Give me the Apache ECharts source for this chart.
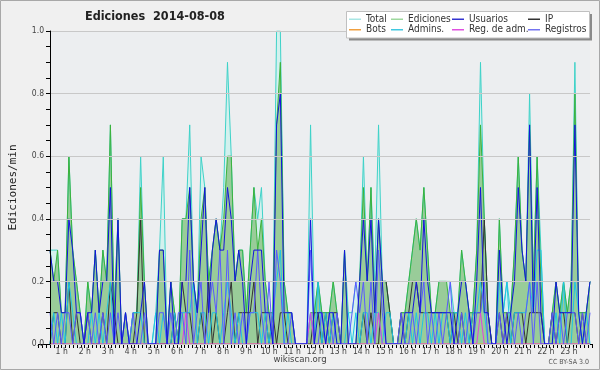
<!DOCTYPE html>
<html><head><meta charset="utf-8">
<script src="https://cdn.jsdelivr.net/npm/echarts@6.0.0/dist/echarts.min.js"></script>
<style>html,body{margin:0;padding:0;background:#f0f0f0}#c{width:600px;height:370px}</style>
</head><body><div id="c"></div>
<script>
const hourLabels = ['1 h','2 h','3 h','4 h','5 h','6 h','7 h','8 h','9 h','10 h','11 h','12 h','13 h','14 h','15 h','16 h','17 h','18 h','19 h','20 h','21 h','22 h','23 h'];
const yTicks = ['0.0','0.2','0.4','0.6','0.8','1.0'];
const slots = [];
for (let h = 0; h < 24; h++) for (let m = 0; m < 60; m += 10) slots.push(String(h).padStart(2,'0') + ':' + String(m).padStart(2,'0'));

// edits per minute, 10-minute buckets (6 per hour)
const total = [
 .3,.3,.3,.1,.1,.6,  .3,.2,.1,0,.2,.1,  .3,.1,.3,.2,.7,.1,  .4,0,.1,0,.1,.1,
 .6,.2,0,0,.1,.3,    .6,0,.2,.1,0,.4,   .4,.7,.2,.1,.6,.5,  .2,.3,.4,.3,.5,.9,
 .6,.2,.3,.3,.1,.3,  .5,.4,.5,.2,.1,.1, 1,1,.2,.1,.1,0,     0,0,0,.7,.1,.2,
 .1,.1,.1,.2,.1,0,   .3,.1,.1,.2,.2,.6, .2,.5,.2,.7,.2,.2,  .1,0,0,.1,.1,.2,
 .3,.4,.3,.5,.3,.1,  .1,.2,.2,.2,.2,.1, .1,.3,.2,.1,.1,.3,  .9,.4,.1,0,0,.4,
 .1,.2,.1,.3,.6,.3,  .2,.8,.2,.6,.3,0,  0,.1,.2,.1,.2,.1,   .2,.9,.1,.1,.1,.2
];
const ediciones = [
 .3,.2,.3,.1,.1,.6,  .3,.2,.1,0,.2,.1,  .3,.1,.3,.2,.7,.1,  .4,0,.1,0,.1,.1,
 .5,.2,0,0,0,.3,     .3,0,.2,.1,0,.4,   .4,.5,.2,.1,.4,.5,  .2,.3,.4,.3,.4,.6,
 .6,.2,.3,.3,.1,.3,  .5,.3,.4,.2,.1,.1, .7,.9,.2,.1,.1,0,   0,0,0,.1,.1,.2,
 .1,.1,.1,.2,.1,0,   .3,0,0,0,.2,.5,    .2,.5,.1,.4,.2,.2,  .1,0,0,.1,.1,.2,
 .3,.4,.3,.5,.3,.1,  .1,.2,.2,.2,.1,.1, .1,.3,.2,.1,.1,.3,  .7,.4,.1,0,0,.4,
 .1,.1,.1,.3,.6,.3,  .2,.7,.2,.6,.2,0,  0,.1,.2,.1,.2,.1,   .2,.8,.1,.1,.1,.2
];
const usuarios = [
 .3,.2,.2,.1,.1,.4,  .3,.1,.1,0,.1,.1,  .3,.1,.2,.2,.5,0,   .4,0,.1,0,0,0,
 .1,.2,0,0,0,.3,     .3,0,.2,0,0,.2,    .2,.5,.2,.1,.3,.5,  .1,.3,.4,.3,.3,.5,
 .4,.2,.3,.2,0,.2,   .3,.3,.3,.1,.1,0,  .7,.8,.1,.1,.1,0,   0,0,0,.4,0,.1,
 .1,0,.1,.1,0,0,     .3,0,0,0,.2,.4,    .2,.4,.1,.4,.2,0,   0,0,0,0,.1,.1,
 .1,.2,.1,.4,.2,.1,  .1,.1,.1,.1,.1,0,  .1,.2,.2,.1,0,.2,   .5,.1,.1,0,0,.3,
 .1,0,.1,.2,.5,.3,   .2,.7,.1,.5,.1,0,  0,0,.2,.1,.1,.1,    .1,.7,.1,0,.1,.2
];
const ip = [
 0,.1,.1,0,0,.2,     0,.1,0,0,.1,0,     0,0,.1,0,.2,.1,     0,0,0,0,0,.1,
 .4,0,0,0,0,0,       0,0,0,.1,0,.2,     .1,.1,0,0,.1,0,     .2,0,.1,0,0,.1,
 .2,0,.1,.1,.1,.1,   .2,0,.1,.1,0,.1,   0,.1,.1,0,0,0,      0,0,0,0,.1,.1,
 0,.1,0,.1,.1,0,     0,0,0,0,0,.1,      0,.1,0,0,.2,.2,     .1,0,0,.1,0,.1,
 .2,.2,.1,.1,.1,.1,  .1,.1,.1,.1,0,.1,  0,.1,0,0,.1,.1,     .1,.4,.1,0,0,.1,
 0,.1,0,.1,.1,.1,    0,.1,.1,.1,.1,0,   0,.1,0,.1,.1,0,     .1,.1,0,.1,0,0
];
const bots = new Array(144).fill(0);
const admins = [
 0,.1,0,.1,0,.2,     .1,0,0,0,0,.1,     0,.1,0,.1,.2,0,     0,0,0,0,.1,.1,
 .1,0,0,0,.1,0,      .1,0,0,.1,0,.1,    .1,.1,.2,0,.1,.1,   0,.1,.1,0,.1,.2,
 .1,0,.1,0,0,.1,     .1,.1,0,.1,0,.1,   .2,.3,0,.1,0,0,     0,0,0,.1,0,.2,
 0,.1,0,.1,0,0,      0,.1,0,.1,0,.1,    .1,0,.1,.1,0,.1,    .1,0,0,0,0,.1,
 0,.1,0,.1,.1,0,     .1,0,.1,.1,0,.1,   .1,0,.1,0,.1,.1,    .2,.1,0,0,0,.2,
 .1,.2,0,.1,.1,.1,   .1,.2,.1,.3,.3,0,  0,0,.1,0,.2,0,      0,.2,.1,0,.1,0
];
const regAdm = [
 0,0,0,0,0,0, 0,0,0,0,0,0, 0,0,0,0,0,0, 0,0,0,0,0,0,
 0,0,0,0,0,0, 0,0,0,0,0,0, .1,0,0,0,0,0, 0,0,0,0,0,0,
 0,0,0,0,0,0, 0,0,0,0,0,0, 0,0,0,0,0,0, 0,0,0,.1,0,0,
 0,0,0,0,0,0, 0,0,0,0,0,0, 0,0,0,.1,0,0, 0,0,0,0,0,0,
 0,0,0,0,0,0, 0,0,0,0,0,0, 0,0,0,0,0,0, .1,0,0,0,0,0,
 0,0,0,0,0,0, 0,0,0,0,0,0, 0,0,0,0,0,0, 0,0,0,0,0,0
];
const registros = [
 .1,0,.1,0,.1,.1,    0,.1,.1,0,.1,0,    .1,0,.1,0,.1,0,     .1,0,.1,0,.1,0,
 0,.1,0,0,0,.1,      .1,0,.1,0,.1,.1,   0,.3,0,.1,.2,0,     .1,.2,.1,.3,0,.3,
 0,.1,0,.1,0,.1,     .1,.3,.1,0,.2,0,   .3,.2,0,0,.1,0,     0,0,0,.3,0,0,
 .1,0,.1,0,.1,0,     0,0,.1,.2,.1,.2,   0,.2,0,.3,.1,0,     0,0,0,.1,0,0,
 .1,0,.1,.2,0,.1,    0,.1,0,.1,.2,0,    0,.1,0,.1,0,.1,     .1,.2,0,0,0,.1,
 0,.1,.1,0,.1,0,     .1,.2,0,.2,0,0,    0,.1,0,.1,0,.1,     .1,.1,0,.1,0,.1
];

const FONT = "'DejaVu Sans Condensed','DejaVu Sans',sans-serif";
const chart = echarts.init(document.getElementById('c'), null, {renderer: 'canvas'});

function line(name, data, color, area) {
  const s = {
    name: name, type: 'line', data: data, symbol: 'none', showSymbol: false,
    xAxisIndex: 0, yAxisIndex: 0,
    lineStyle: {width: 1, color: color}, itemStyle: {color: color},
    animation: false, silent: true
  };
  if (area) s.areaStyle = {color: area, opacity: 1};
  return s;
}

const legendCols = [
  {x: 349, items: [['Total', '#a8e6e4'], ['Bots', '#f0a040']]},
  {x: 391, items: [['Ediciones', '#9ed89e'], ['Admins.', '#40c8e0']]},
  {x: 452, items: [['Usuarios', '#3434d0'], ['Reg. de adm.', '#e050e0']]},
  {x: 528, items: [['IP', '#333333'], ['Registros', '#7474f0']]}
];

chart.setOption({
  backgroundColor: '#f0f0f0',
  animation: false,
  title: [
    {text: 'Ediciones  2014-08-08', left: 85, top: 10, padding: 0,
     textStyle: {fontFamily: FONT, fontSize: 12.5, fontWeight: 'bold', color: '#222'}},
    {text: 'wikiscan.org', left: 'center', top: 355, padding: 0,
     textStyle: {fontFamily: FONT, fontSize: 9.5, fontWeight: 'normal', color: '#444'}},
    {text: 'CC BY-SA 3.0', right: 11, top: 359, padding: 0,
     textStyle: {fontFamily: FONT, fontSize: 7, fontWeight: 'normal', color: '#555'}}
  ],
  graphic: [
    {type: 'rect', z: 100, silent: true, shape: {x: 0.5, y: 0.5, width: 599, height: 369},
     style: {fill: null, stroke: '#a8a8a8', lineWidth: 1}},
    {type: 'rect', z: 20, silent: true, shape: {x: 349, y: 14, width: 243, height: 26.5},
     style: {fill: '#8a8a8a'}},
    {type: 'rect', z: 20, silent: true, shape: {x: 346.5, y: 11.5, width: 243, height: 26.5},
     style: {fill: '#ffffff', stroke: '#c0c0c0', lineWidth: 1}}
  ],
  legend: legendCols.map(c => ({
    orient: 'vertical', left: c.x, top: 14, padding: 0, itemGap: 0,
    itemWidth: 12, itemHeight: 1.5, icon: 'rect', selectedMode: false, z: 30,
    textStyle: {fontFamily: FONT, fontSize: 10, lineHeight: 10.5, color: '#333'},
    data: c.items.map(it => ({name: it[0], itemStyle: {color: it[1]}}))
  })),
  grid: [
    {left: 46, right: 10, top: 31, bottom: 26, show: true, backgroundColor: '#eceef0', borderWidth: 0},
    {left: 38.6, right: 8, top: 31, bottom: 26, show: false}
  ],
  xAxis: [
    {type: 'category', gridIndex: 0, data: slots, boundaryGap: false, show: false},
    {
      type: 'value', gridIndex: 1, min: 0, max: 1440, interval: 60, z: 10,
      axisLine: {lineStyle: {color: '#000', width: 1}},
      axisTick: {length: 4, lineStyle: {color: '#000'}},
      minorTick: {show: true, splitNumber: 6, length: 4, lineStyle: {color: '#000'}},
      axisLabel: {
        formatter: (v) => (v > 0 && v < 1440) ? hourLabels[Math.round(v / 60) - 1] : '',
        fontFamily: FONT, fontSize: 8.5, color: '#444', margin: 3
      },
      splitLine: {show: false}, minorSplitLine: {show: false}
    }
  ],
  yAxis: [
    {
      type: 'value', gridIndex: 0, min: 0, max: 1, interval: 0.2, z: 11,
      name: 'Ediciones/min', nameLocation: 'middle', nameGap: 31,
      nameTextStyle: {fontFamily: "'DejaVu Sans Mono',monospace", fontSize: 11, color: '#222'},
      axisLine: {show: true, lineStyle: {color: '#000'}},
      axisTick: {show: true, length: 4, lineStyle: {color: '#000'}},
      minorTick: {show: true, splitNumber: 4, length: 4, lineStyle: {color: '#000'}},
      splitLine: {lineStyle: {color: '#c8c8c8', width: 1}},
      axisLabel: {formatter: (v) => yTicks[Math.round(v * 5)], fontFamily: FONT, fontSize: 8.5, color: '#444', margin: 6}
    },
    {type: 'value', gridIndex: 1, min: 0, max: 1, show: false}
  ],
  series: [
    line('Total', total, '#3ed2c8', '#d3f1ee'),
    line('Ediciones', ediciones, '#3cb23c', '#99cc99'),
    line('Bots', bots, '#f0a030'),
    line('IP', ip, '#333333'),
    line('Admins.', admins, '#1ec4e4'),
    line('Reg. de adm.', regAdm, '#e040e0'),
    line('Registros', registros, '#5a5aff'),
    line('Usuarios', usuarios, '#1414dc')
  ]
});
</script></body></html>
